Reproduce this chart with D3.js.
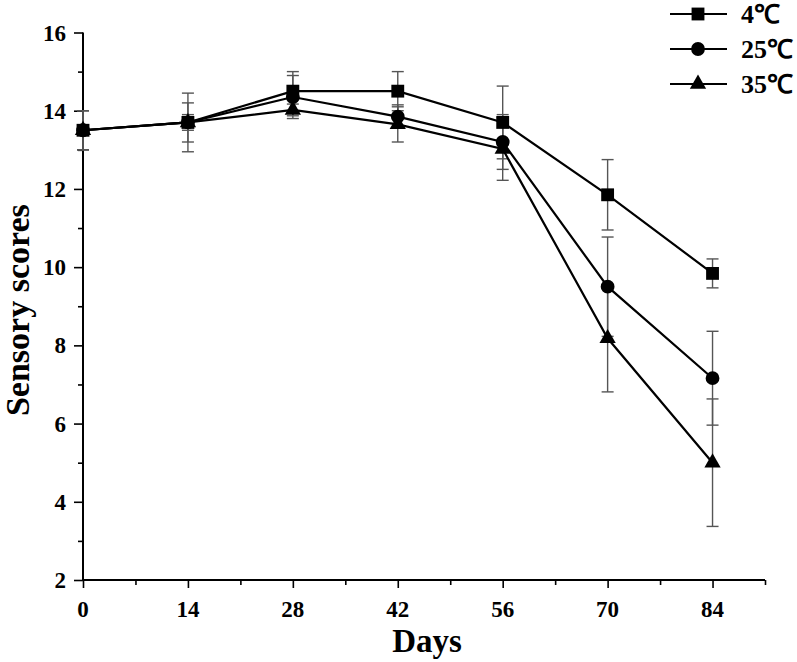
<!DOCTYPE html>
<html>
<head>
<meta charset="utf-8">
<script src="https://cdn.jsdelivr.net/npm/d3@7"></script>
<style>
  html, body { margin: 0; padding: 0; background: #fff; }
  svg { display: block; }
  text { font-family: "Liberation Serif", "Times New Roman", serif; fill: #000; }
</style>
</head>
<body>
<svg id="chart" width="797" height="662"></svg>
<script>
const days = [0, 14, 28, 42, 56, 70, 84];
const seriesNames = ["4℃", "25℃", "35℃"];
const values4 = [13.5, 13.7, 14.5, 14.5, 13.7, 11.85, 9.84];
const values25 = [13.5, 13.7, 14.35, 13.85, 13.2, 9.5, 7.16];
const values35 = [13.5, 13.7, 14.02, 13.65, 13.02, 8.18, 5.0];
const err4 = [0.5, 0.75, 0.5, 0.5, 0.93, 0.9, 0.37];
const err25 = [0.5, 0.5, 0.55, 0.3, 0.7, 1.27, 1.2];
const err35 = [0.5, 0.2, 0.15, 0.45, 0.8, 1.37, 1.63];
const yTicks = [2, 4, 6, 8, 10, 12, 14, 16];
const xTicks = [0, 14, 28, 42, 56, 70, 84];

const series = [
  { name: seriesNames[0], values: values4, errs: err4, symbol: d3.symbolSquare },
  { name: seriesNames[1], values: values25, errs: err25, symbol: d3.symbolCircle },
  { name: seriesNames[2], values: values35, errs: err35, symbol: d3.symbolTriangle }
];

const svg = d3.select("#chart");
const x = d3.scaleLinear().domain([0, 91]).range([83, 765]);
const y = d3.scaleLinear().domain([2, 16]).range([580, 32.5]);

// Axes
const xAxis = svg.append("g").attr("transform", `translate(0,${y(2)})`);
xAxis.call(d3.axisBottom(x).tickValues(d3.range(0, 92, 7)).tickSize(6).tickFormat(""));
xAxis.selectAll(".tick line").attr("stroke", "#000").attr("stroke-width", 1.6)
  .attr("y2", d => (d % 14 === 0 ? 8 : 5));
xAxis.select(".domain").attr("stroke", "#000").attr("stroke-width", 2).attr("d", `M${x(0)},0H${x(91)}`);
xAxis.selectAll(".lbl").data(xTicks).enter().append("text")
  .attr("class", "lbl")
  .attr("x", d => x(d)).attr("y", 37)
  .attr("text-anchor", "middle").attr("font-size", 23).attr("font-weight", "bold")
  .text(d => d);

const yAxis = svg.append("g").attr("transform", `translate(${x(0)},0)`);
yAxis.call(d3.axisLeft(y).tickValues(d3.range(2, 16.5, 1)).tickSize(6).tickFormat(""));
yAxis.selectAll(".tick line").attr("stroke", "#000").attr("stroke-width", 1.6)
  .attr("x2", d => (d % 2 === 0 ? -9 : -5));
yAxis.select(".domain").attr("stroke", "#000").attr("stroke-width", 2).attr("d", `M0,${y(2)}V${y(16)}`);
yAxis.selectAll(".lbl").data(yTicks).enter().append("text")
  .attr("class", "lbl")
  .attr("x", -17).attr("y", d => y(d)).attr("dy", "0.35em")
  .attr("text-anchor", "end").attr("font-size", 23).attr("font-weight", "bold")
  .text(d => d);

// Axis titles
svg.append("text").attr("x", 427).attr("y", 652)
  .attr("text-anchor", "middle").attr("font-size", 33).attr("font-weight", "bold").text("Days");
svg.append("text").attr("transform", `translate(29,${y(8.9)}) rotate(-90)`)
  .attr("text-anchor", "middle").attr("font-size", 34).attr("font-weight", "bold").text("Sensory scores");

// Error bars
const errG = svg.append("g");
series.forEach(s => {
  s.values.forEach((v, i) => {
    const e = s.errs[i];
    const cx = x(days[i]);
    const g = errG.append("g").attr("stroke", "#555").attr("stroke-width", 1.4);
    g.append("line").attr("x1", cx).attr("x2", cx).attr("y1", y(v - e)).attr("y2", y(v + e));
    g.append("line").attr("x1", cx - 6).attr("x2", cx + 6).attr("y1", y(v - e)).attr("y2", y(v - e));
    g.append("line").attr("x1", cx - 6).attr("x2", cx + 6).attr("y1", y(v + e)).attr("y2", y(v + e));
  });
});

// Lines
const line = d3.line().x((d, i) => x(days[i])).y(d => y(d));
series.forEach(s => {
  svg.append("path").attr("d", line(s.values)).attr("fill", "none")
    .attr("stroke", "#000").attr("stroke-width", 2.2);
});

// Markers
const sizes = { 0: 165, 1: 150, 2: 115 };
series.forEach((s, si) => {
  svg.append("g").selectAll("path").data(s.values).enter().append("path")
    .attr("d", d3.symbol().type(s.symbol).size(sizes[si]))
    .attr("transform", (d, i) => `translate(${x(days[i])},${y(d)})`)
    .attr("fill", "#000");
});

// Legend
const legend = svg.append("g");
const legendY = [14, 49, 84];
series.forEach((s, si) => {
  const ly = legendY[si];
  legend.append("line").attr("x1", 670).attr("x2", 727).attr("y1", ly).attr("y2", ly)
    .attr("stroke", "#000").attr("stroke-width", 2.2);
  legend.append("path").attr("d", d3.symbol().type(s.symbol).size(sizes[si])())
    .attr("transform", `translate(698,${ly})`).attr("fill", "#000");
  legend.append("text").attr("x", 741).attr("y", ly).attr("dy", "0.35em")
    .attr("font-size", 26).attr("font-weight", "bold").text(s.name);
});
</script>
</body>
</html>
